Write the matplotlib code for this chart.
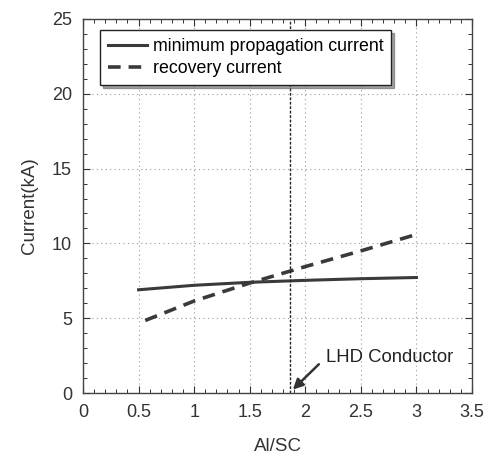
import matplotlib
matplotlib.use("Agg")
import matplotlib.pyplot as plt
from matplotlib.ticker import MultipleLocator

plt.rcParams['font.family'] = ['Liberation Sans', 'DejaVu Sans']

# Data
x_min_prop = [0.5, 1.0, 1.5, 2.0, 2.5, 3.0]
y_min_prop = [6.9, 7.2, 7.4, 7.53, 7.64, 7.72]
x_recovery = [0.56, 1.0, 1.5, 2.0, 2.5, 3.0]
y_recovery = [4.85, 6.15, 7.35, 8.45, 9.5, 10.6]
lhd_x = 1.86
labels = ["minimum propagation current", "recovery current"]

fig = plt.figure(figsize=(4.9, 4.58), dpi=100)
ax = fig.add_axes([83/490, 65/458, 389/490, 374/458])

c = '#3a3a3a'
ax.plot(x_min_prop, y_min_prop, color=c, lw=2.2, label=labels[0])
ax.plot(x_recovery, y_recovery, color=c, lw=2.6, ls=(0, (3.5, 2.2)), label=labels[1])

ax.axvline(lhd_x, color='#222222', lw=1.0, ls=(0, (2, 1.2)))

ax.annotate('', xy=(lhd_x + 0.01, 0.1), xytext=(2.14, 2.05),
            arrowprops=dict(arrowstyle='-|>', color='#333333', lw=1.8,
                            mutation_scale=15))
ax.text(2.19, 2.4, 'LHD Conductor', fontsize=13.3, va='center', ha='left', color='#222222')

ax.set_xlim(0, 3.5)
ax.set_ylim(0, 25)
ax.xaxis.set_major_locator(MultipleLocator(0.5))
ax.xaxis.set_minor_locator(MultipleLocator(0.1))
ax.yaxis.set_major_locator(MultipleLocator(5))
ax.yaxis.set_minor_locator(MultipleLocator(1))
ax.set_xticks([0, 0.5, 1, 1.5, 2, 2.5, 3, 3.5])
ax.set_xticklabels(['0', '0.5', '1', '1.5', '2', '2.5', '3', '3.5'])
ax.tick_params(which='both', direction='in', top=True, right=True, labelsize=13, colors='#333333')
ax.tick_params(which='major', length=5, width=0.8, pad=8)
ax.tick_params(which='minor', length=3, width=0.7)
for s in ax.spines.values():
    s.set_color('#444444')
    s.set_linewidth(1.0)

ax.grid(True, which='major', ls=(0, (1, 3)), color='#999999', lw=0.8)

ax.set_xlabel('Al/SC', fontsize=13.5, labelpad=12, color='#333333')
ax.set_ylabel('Current(kA)', fontsize=13.5, labelpad=10, color='#333333')

leg = ax.legend(loc='upper left', bbox_to_anchor=(0.044, 0.971), borderaxespad=0,
                fontsize=12.8, frameon=True, fancybox=False, shadow=True,
                handlelength=2.2, handletextpad=0.3, borderpad=0.45, labelspacing=0.3)
leg.get_frame().set_edgecolor('#222222')
leg.get_frame().set_linewidth(1.0)

fig.savefig('out.png', dpi=100)
